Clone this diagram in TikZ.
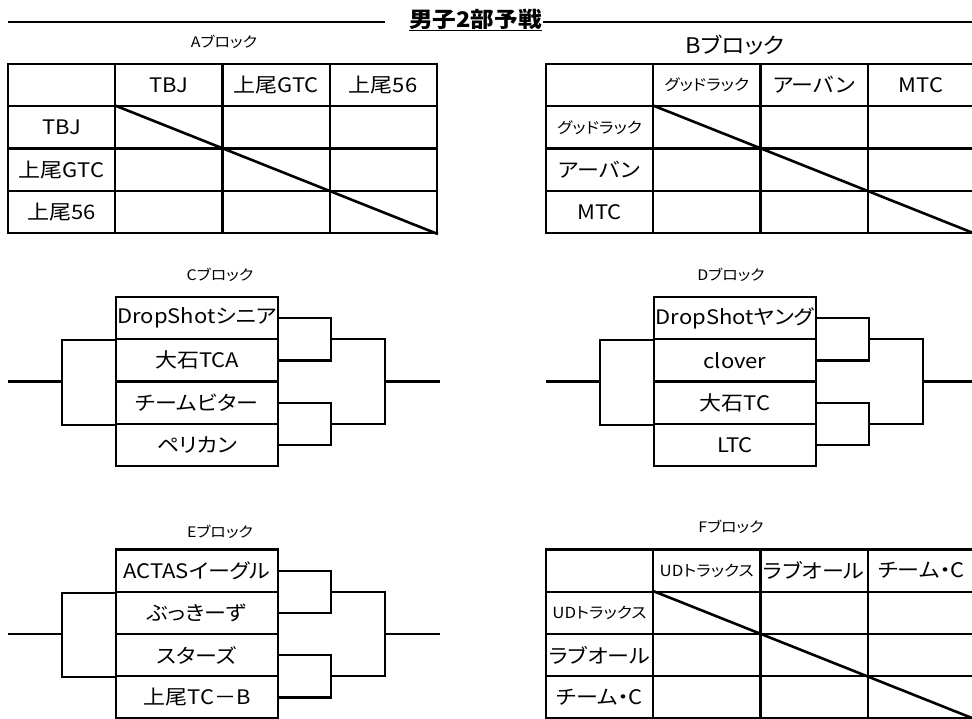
\documentclass[tikz,border=0pt]{standalone}
\usepackage{fontspec}
\setmainfont{Noto Sans CJK JP}[RawFeature=+palt, FakeStretch=1.1]
\usepackage{tikz}

\newcommand{\smallname}[1]{{\fontsize{15.3pt}{16pt}\selectfont #1}}

% round robin table: name, left, top, three teams
\newcommand{\leaguetable}[6]{%
  \node[cell] (#1-00) at (#2+53.6, #3+21.1) {};
  \foreach \i/\team in {1/{#4},2/{#5},3/{#6}} {
    \node[cell] (#1-0\i) at (#2+53.6+107.2*\i, #3+21.1) {\team};
    \node[cell] (#1-\i0) at (#2+53.6, #3+21.1+42.25*\i) {\team};
    \foreach \j in {1,2,3}
      \node[cell] (#1-\i\j) at (#2+53.6+107.2*\j, #3+21.1+42.25*\i) {};
  }
  \draw[line width=2.6pt] (#1-11.north west) -- (#1-33.south east);
}

% knockout of four: name, left, top, four teams
\newcommand{\knockout}[7]{%
  \foreach \i/\team in {1/{#4},2/{#5},3/{#6},4/{#7}}
    \node[team] (#1-\i) at (#2+81, #3+42.25*\i-21.1) {\team};
  \coordinate (#1-in) at (#2-108, #3+84.5);
  \coordinate (#1-l) at (#2-54, #3+84.5);
  \coordinate (#1-m1) at (#2+215, #3+42.25);
  \coordinate (#1-m2) at (#2+215, #3+126.75);
  \coordinate (#1-f) at (#2+269, #3+84.5);
  \coordinate (#1-out) at (#2+324, #3+84.5);
  \draw (#1-in) -- (#1-l);
  \draw (#1-1.south west) -| (#1-l) |- (#1-3.south west);
  \draw (#1-1.east) -| (#1-m1) |- (#1-2.east);
  \draw (#1-3.east) -| (#1-m2) |- (#1-4.east);
  \draw (#1-m1) -| (#1-f) |- (#1-m2);
  \draw (#1-f) -- (#1-out);
}

\begin{document}
\begin{tikzpicture}[x=1pt, y=-1pt, line width=2.2pt,
    cell/.style={draw, minimum width=107.2pt, minimum height=42.25pt, inner sep=0pt,
                 font=\fontsize{20pt}{21pt}\selectfont},
    team/.style={draw, minimum width=162pt, minimum height=42.25pt, inner sep=0pt,
                 font=\fontsize{20pt}{21pt}\selectfont},
    blocklabel/.style={font=\fontsize{14.5pt}{15pt}\selectfont}]
  \useasboundingbox (0,0) rectangle (972,719);

  % heading
  \node[font=\fontsize{21.5pt}{22pt}\selectfont\bfseries, inner sep=0pt, anchor=east]
    (title) at (543,20) {\underline{男子2部予戦}};
  \coordinate (rule-a) at (8,22);
  \coordinate (rule-b) at (385,22);
  \coordinate (rule-c) at (972,22);
  \draw (rule-a) -- (rule-b);
  \draw (title.east |- rule-c) -- (rule-c);

  % block titles
  \node[blocklabel] (ta) at (224,42) {Aブロック};
  \node[font=\fontsize{21.5pt}{22pt}\selectfont] (tb) at (735,45) {Bブロック};
  \node[blocklabel] (tc) at (220,275) {Cブロック};
  \node[blocklabel] (td) at (731,275) {Dブロック};
  \node[blocklabel] (te) at (220,532) {Eブロック};
  \node[blocklabel] (tf) at (731,527) {Fブロック};

  \leaguetable{a}{8}{64}{TBJ}{上尾GTC}{上尾56}
  \leaguetable{b}{546}{64}{\smallname{グッドラック}}{アーバン}{MTC}
  \knockout{c}{116}{297}{DropShotシニア}{大石TCA}{チームビター}{ペリカン}
  \knockout{d}{654}{297}{DropShotヤング}{clover}{大石TC}{LTC}
  \knockout{e}{116}{549.5}{ACTASイーグル}{ぶっきーず}{スターズ}{上尾TC－B}
  \leaguetable{f}{546}{549.5}{\smallname{UDトラックス}}{ラブオール}{チーム・C}
\end{tikzpicture}
\end{document}
